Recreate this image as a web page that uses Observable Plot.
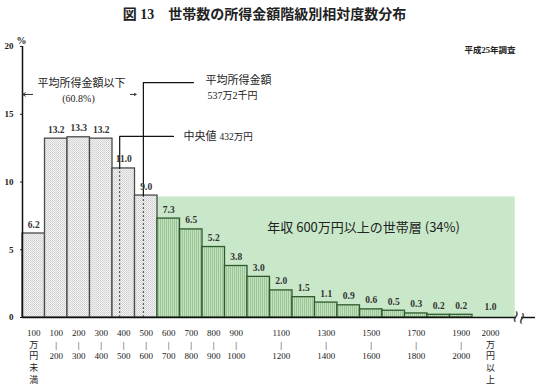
<!DOCTYPE html>
<html><head><meta charset="utf-8">
<script src="https://cdn.jsdelivr.net/npm/d3@7"></script>
<script src="https://cdn.jsdelivr.net/npm/@observablehq/plot@0.6"></script>
<style>
body{margin:0;background:#fff;}
#title{height:32px;line-height:30px;text-align:center;font-weight:bold;font-size:14px;font-family:"Liberation Serif","DejaVu Serif","Noto Sans CJK JP",serif;color:#222;padding-right:6px;box-sizing:border-box;}
</style></head>
<body>
<div id="title">図 13　世帯数の所得金額階級別相対度数分布</div>
<div id="chart"></div>
<script>
// income brackets (万円), lower bounds of each 100万円 class
const binLower = [0,100,200,300,400,500,600,700,800,900,1000,1100,1200,1300,1400,1500,1600,1700,1800,1900];
// relative frequency (%)
const shares = [6.2,13.2,13.3,13.2,11.0,9.0,7.3,6.5,5.2,3.8,3.0,2.0,1.5,1.1,0.9,0.6,0.5,0.3,0.2,0.2];
const topBracket = 2080;      // 2000万円以上 (drawn off-scale)
const topShare = 1.0;
// x tick labels
const tickCenters = [50,150,250,350,450,550,650,750,850,950,1150,1350,1550,1750,1950,2080];
const xTickLabels = ["100\n万\n円\n未\n満","100\n|\n200","200\n|\n300","300\n|\n400","400\n|\n500","500\n|\n600",
  "600\n|\n700","700\n|\n800","800\n|\n900","900\n|\n1000","1100\n|\n1200","1300\n|\n1400","1500\n|\n1600",
  "1700\n|\n1800","1900\n|\n2000","2000\n万\n円\n以\n上"];
const yTicks = [0,5,10,15,20];
// annotations
const median = 432, medianShare = 11.0;
const mean = 537.2, meanShare = 9.0;
const greenFrom = 600, greenTo = 2190, greenTop = 8.9;

const data = binLower.map((lo,i)=>({lo, hi: lo+100, v: shares[i], green: lo>=greenFrom}));
const labelMap = new Map(tickCenters.map((c,i)=>[c, xTickLabels[i]]));
const jp = "Noto Sans CJK JP, sans-serif";
const serif = "Liberation Serif, DejaVu Serif, Noto Sans CJK JP, serif";

const chart = Plot.plot({
  width: 535, height: 358,
  marginLeft: 22, marginRight: 0, marginTop: 14, marginBottom: 73,
  style: {fontFamily: serif, fontSize: "9px", background: "white", color: "#222"},
  x: {domain: [0, 2280], axis: null},
  y: {domain: [0, 20], axis: null},
  marks: [
    Plot.rect([0], {x1: greenFrom, x2: greenTo, y1: 0, y2: greenTop, fill: "#c9e8c9"}),
    Plot.rectY(data.filter(d=>!d.green), {x1:"lo", x2:"hi", y:"v", fill:"url(#pw)", stroke:"#4a4a4a", strokeWidth:1.3}),
    Plot.rectY(data.filter(d=>d.green), {x1:"lo", x2:"hi", y:"v", fill:"url(#pg)", stroke:"#2f5a2f", strokeWidth:1.3}),
    // dashed lines inside bars
    Plot.ruleX([median], {y1:0, y2: medianShare, stroke:"#444", strokeDasharray:"2,2", strokeWidth:1}),
    Plot.ruleX([mean], {y1:0, y2: meanShare, stroke:"#444", strokeDasharray:"2,2", strokeWidth:1}),
    // leader lines
    Plot.line([[median, medianShare],[median,13.36],[671,13.36]], {stroke:"#111", strokeWidth:1.2}),
    Plot.line([[mean, meanShare],[mean,17.34],[760,17.34]], {stroke:"#111", strokeWidth:1.2}),
    // value labels
    Plot.text(data, {x: d=>(d.lo+d.hi)/2, y:"v", text: d=>d.v.toFixed(1), dy:-9, fontWeight:"bold", fontSize:9.5, fontFamily: serif, letterSpacing:"0.8px", fill:"#333"}),
    Plot.text([topShare], {x: topBracket, y: 0, text: d=>d.toFixed(1), dy:-11, fontWeight:"bold", fontSize:9.5, fontFamily: serif, letterSpacing:"0.8px", fill:"#333"}),
    // axes lines
    Plot.ruleX([0], {y1:0, y2:20, stroke:"#111", strokeWidth:1.5}),
    Plot.ruleY([0], {x1:0, x2:2194, stroke:"#111", strokeWidth:1.5}),
    Plot.ruleY([0], {x1:2218, x2:2280, stroke:"#111", strokeWidth:1.5}),
    Plot.text(["≀≀"], {x: 2206, y: 0, text: d=>d, fontFamily:"DejaVu Sans", fontSize:17, letterSpacing:"-5px", fill:"#333", rotate: 15}),
    Plot.axisY({ticks: yTicks, tickSize: 2, tickPadding: 7, fontSize: 9, fontWeight:"bold", fontFamily: serif, label: null}),
    Plot.text(["%"], {x:0, y:20, text:d=>d, dy:-6, dx:-1, fontSize:10, fontWeight:"bold", fontFamily: serif}),
    Plot.axisX({ticks: tickCenters, tickFormat: d=>labelMap.get(d), tickSize: 0, tickPadding: 10, fontSize: 9, fontFamily: serif, lineHeight: 1.3, label: null}),
    // annotation texts
    Plot.text(["平成25年調査"], {x: 2191, y: 19.7, text:d=>d, textAnchor:"end", fontSize:8.5, fontWeight:"bold", fontFamily: serif}),
    Plot.text(["平均所得金額以下"], {x: 262, y: 17.27, text:d=>d, fontSize:11, fontFamily: jp}),
    Plot.text(["(60.8%)"], {x: 249, y: 16.16, text:d=>d, fontSize:10, fontFamily: serif}),
    Plot.arrow([[45,0]], {x1: d=>d[0], x2: d=>d[1], y1: 16.46, y2: 16.46, headLength: 5, strokeWidth: 1, stroke:"#333"}),
    Plot.arrow([[480,505]], {x1: d=>d[0], x2: d=>d[1], y1: 16.46, y2: 16.46, headLength: 5, strokeWidth: 1, stroke:"#333"}),
    Plot.text(["平均所得金額"], {x: 813, y: 17.49, text:d=>d, textAnchor:"start", fontSize:11, fontFamily: jp}),
    Plot.text(["537万2千円"], {x: 933, y: 16.38, text:d=>d, fontSize:10, fontFamily: serif}),
    Plot.text(["中央値"], {x: 716, y: 13.36, text:d=>d, textAnchor:"start", fontSize:11, fontFamily: jp}),
    Plot.text(["432万円"], {x: 876, y: 13.36, text:d=>d, textAnchor:"start", fontSize:9.5, fontFamily: serif}),
    Plot.text(["年収 600万円以上の世帯層 (34%)"], {x: 1516, y: 6.64, text:d=>d, fontSize:13, fontFamily: jp, fill:"#222"})
  ]
});
const defs = d3.select(chart).insert("defs", ":first-child");
const pw = defs.append("pattern").attr("id","pw").attr("patternUnits","userSpaceOnUse").attr("width",2).attr("height",2);
pw.append("rect").attr("width",2).attr("height",2).attr("fill","#f2f2f2");
pw.append("rect").attr("width",1).attr("height",1).attr("fill","#cfcfcf");
pw.append("rect").attr("x",1).attr("y",1).attr("width",1).attr("height",1).attr("fill","#dadada");
const pg = defs.append("pattern").attr("id","pg").attr("patternUnits","userSpaceOnUse").attr("width",2).attr("height",2);
pg.append("rect").attr("width",2).attr("height",2).attr("fill","#c2e0bd");
pg.append("rect").attr("width",1).attr("height",2).attr("fill","#9cc698");
document.getElementById("chart").appendChild(chart);
</script>
</body></html>
